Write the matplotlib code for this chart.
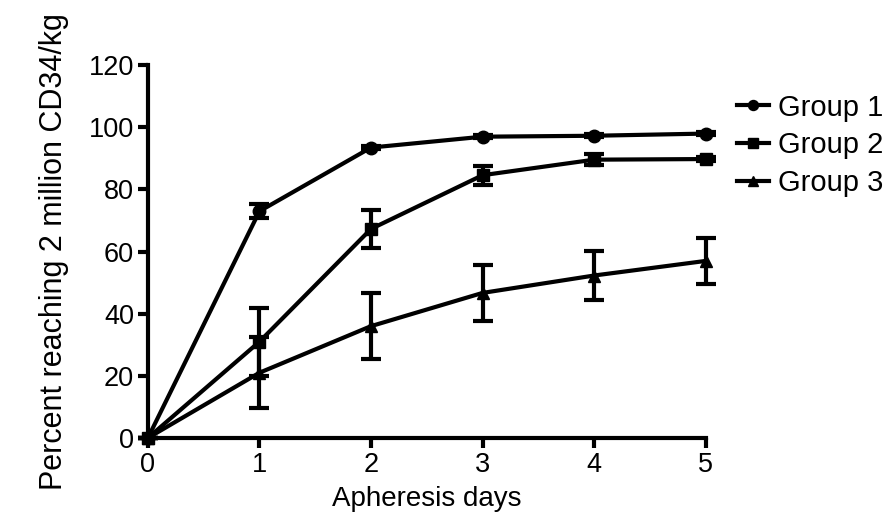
import numpy as np
import matplotlib
matplotlib.use("Agg")
import matplotlib.pyplot as plt

plt.rcParams['font.family'] = ['Liberation Sans', 'DejaVu Sans']

days = [0, 1, 2, 3, 4, 5]

# percent reaching 2 million CD34/kg, with error bars
group1 = [0, 73, 93.5, 97, 97.3, 98]
group1_err = [0, 2.2, 0.5, 0.5, 0.5, 0.5]
group2 = [0, 31, 67.3, 84.6, 89.6, 89.8]
group2_err = [0, 11, 6, 3, 1.7, 0.5]
group3 = [0, 21, 36, 46.7, 52.3, 57]
group3_err = [0, 11.5, 10.7, 9, 8, 7.5]

labels = ["Group 1", "Group 2", "Group 3"]
markers = ["o", "s", "^"]

fig = plt.figure(figsize=(8.91, 5.22), dpi=100)
ax = fig.add_axes([0.166, 0.161, 0.626, 0.714])

series = [(group1, group1_err), (group2, group2_err), (group3, group3_err)]
for (vals, errs), lab, mk in zip(series, labels, markers):
    ax.errorbar(days, vals, yerr=errs, color='black', lw=3, marker=mk,
                markersize=9, capsize=7, capthick=3, elinewidth=3,
                label=lab, clip_on=False, zorder=3)

ax.set_xlim(0, 5)
ax.set_ylim(0, 120)
ax.set_xticks(range(0, 6))
ax.set_yticks(range(0, 121, 20))
for s in ['top', 'right']:
    ax.spines[s].set_visible(False)
for s in ['left', 'bottom']:
    ax.spines[s].set_linewidth(3)
ax.tick_params(width=3, length=7, labelsize=19.5, pad=3)
ax.set_xlabel("Apheresis days", fontsize=20, labelpad=6)
ax.set_ylabel("Percent reaching 2 million CD34/kg", fontsize=22, labelpad=14)

handles, labs = ax.get_legend_handles_labels()
handles = [h[0] for h in handles]
ax.legend(handles, labs, loc='upper left', bbox_to_anchor=(1.035, 0.955),
          frameon=False, fontsize=21, handlelength=1.1, handletextpad=0.3,
          labelspacing=0.33, borderaxespad=0, markerscale=0.8)

fig.savefig("out.png", dpi=100)
